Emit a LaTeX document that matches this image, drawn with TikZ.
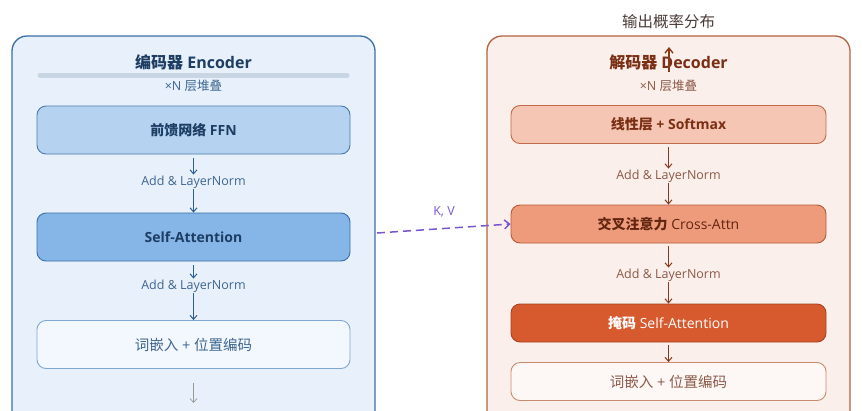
\documentclass[tikz,border=0pt]{standalone}
\usepackage{fontspec}
\setmainfont{Open Sans}
\newfontfamily\zhfont{Noto Sans CJK SC}
\newcommand{\zh}[1]{{\zhfont #1}}
\usetikzlibrary{arrows.meta}
\definecolor{encfill}{HTML}{E8F1FB}
\definecolor{encline}{HTML}{3B6FA6}
\definecolor{enctitle}{HTML}{1D3D63}
\definecolor{enctext}{HTML}{3E6690}
\definecolor{encbar}{HTML}{C8D5E3}
\definecolor{ffnfill}{HTML}{B5D3F1}
\definecolor{ffnline}{HTML}{4A79AD}
\definecolor{safill}{HTML}{86B6E8}
\definecolor{embfill}{HTML}{F3F8FE}
\definecolor{embline}{HTML}{7EA7D2}
\definecolor{encarrow}{HTML}{2D5D95}
\definecolor{decfill}{HTML}{FBEFEB}
\definecolor{decline}{HTML}{B4623F}
\definecolor{dectitle}{HTML}{7A2E14}
\definecolor{dectext}{HTML}{8A5A48}
\definecolor{smfill}{HTML}{F4C6B3}
\definecolor{smline}{HTML}{BF6A4A}
\definecolor{crfill}{HTML}{EE9B7C}
\definecolor{crline}{HTML}{B85A38}
\definecolor{mkfill}{HTML}{D75A2E}
\definecolor{mkline}{HTML}{A8431F}
\definecolor{demfill}{HTML}{FDF7F5}
\definecolor{demline}{HTML}{C98B70}
\definecolor{decarrow}{HTML}{8A3A1C}
\definecolor{kv}{HTML}{7A55D0}
\definecolor{outtext}{HTML}{4A3A36}
\tikzset{
  outer/.style={rounded corners=15pt, line width=1.3pt},
  layer/.style={rounded corners=9pt, line width=0.9pt, minimum height=#1, inner sep=0pt},
  layer/.default=48pt,
  encbox/.style={layer, minimum width=313pt},
  decbox/.style={layer=38pt, minimum width=315pt},
  lbl/.style={font=\fontsize{12.5}{14}\selectfont, inner sep=1pt},
  flow/.style={-{Straight Barb[length=4pt,width=7pt]}, line width=1pt},
}
\begin{document}
\begin{tikzpicture}[x=1pt,y=-1pt]
\useasboundingbox (0,0) rectangle (862,410);
\clip (0,0) rectangle (862,410);
% ---------------- Encoder ----------------
\draw[outer, draw=encline, fill=encfill] (12,36) rectangle (375,440);
\node[font=\fontsize{16}{18}\selectfont\bfseries, text=enctitle] (enct) at (193.5,62) {\zh{编码器} Encoder};
\draw[encbar, line width=5pt, line cap=round] (40,75) -- (347,75);
\node[lbl, text=enctext] (encn) at (193.5,86) {×N \zh{层堆叠}};
\node[encbox, draw=ffnline, fill=ffnfill, font=\fontsize{14}{16}\selectfont\bfseries, text=enctitle] (ffn) at (193.5,130) {\zh{前馈网络} FFN};
\node[lbl, text=enctext] (eadd1) at (193.5,182) {Add \& LayerNorm};
\node[encbox, draw=encline, fill=safill, font=\fontsize{14}{16}\selectfont\bfseries, text=enctitle] (esa) at (193.5,237) {Self-Attention};
\node[lbl, text=enctext] (eadd2) at (193.5,286) {Add \& LayerNorm};
\node[encbox, draw=embline, fill=embfill, font=\fontsize{14.5}{16}\selectfont, text=enctext] (eemb) at (193.5,344.5) {\zh{词嵌入} + \zh{位置编码}};
\coordinate (ebot) at (193.5,403);
\draw[flow, encarrow] (ffn.south) ++(0,4) -- (eadd1.north);
\draw[flow, encarrow] (eadd1.south) -- (esa.north);
\draw[flow, encarrow] (esa.south) ++(0,4) -- (eadd2.north);
\draw[flow, encarrow] (eadd2.south) -- (eemb.north);
\draw[flow, gray!80, line width=0.7pt] (eemb.south) ++(0,14) -- (ebot);
% ---------------- Decoder ----------------
\draw[outer, draw=decline, fill=decfill] (487,36) rectangle (850,440);
\node[font=\fontsize{15.5}{18}\selectfont, text=outtext] (dout) at (668.5,22) {\zh{输出概率分布}};
\node[font=\fontsize{16}{18}\selectfont\bfseries, text=dectitle] (dect) at (668.5,62) {\zh{解码器} Decoder};
\coordinate (dup) at (669,72);
\coordinate (dupend) at (669,47);
\draw[decarrow, line width=1.4pt, -{Straight Barb[length=5pt,width=8pt]}] (dup) -- (dupend);
\node[lbl, text=dectext] (decn) at (668.5,86) {×N \zh{层堆叠}};
\node[decbox, draw=smline, fill=smfill, font=\fontsize{14}{16}\selectfont\bfseries, text=dectitle] (dsm) at (668.5,124.5) {\zh{线性层} + Softmax};
\node[lbl, text=dectext] (dadd1) at (668.5,176) {Add \& LayerNorm};
\node[decbox, draw=crline, fill=crfill, font=\fontsize{14}{16}\selectfont, text=dectitle!80!black] (dcr) at (668.5,224) {\zh{\bfseries 交叉注意力} Cross-Attn};
\node[lbl, text=dectext] (dadd2) at (668.5,275) {Add \& LayerNorm};
\node[decbox, draw=mkline, fill=mkfill, font=\fontsize{14}{16}\selectfont, text=white] (dmk) at (668.5,323) {\zh{\bfseries 掩码} Self-Attention};
\node[decbox, draw=demline, fill=demfill, font=\fontsize{14.5}{16}\selectfont, text=dectext] (demb) at (668.5,381.5) {\zh{词嵌入} + \zh{位置编码}};
\draw[flow, decarrow] (dsm.south) ++(0,3) -- (dadd1.north);
\draw[flow, decarrow] (dadd1.south) -- (dcr.north);
\draw[flow, decarrow] (dcr.south) ++(0,3) -- (dadd2.north);
\draw[flow, decarrow] (dadd2.south) -- (dmk.north);
\draw[flow, decarrow] (dmk.south) ++(0,3) -- (demb.north);
% ---------------- K, V ----------------
\coordinate (kvs) at (377,233);
\draw[kv, line width=1.5pt, dash pattern=on 8pt off 5pt, -{Straight Barb[length=5pt,width=9pt]}] (kvs) -- (dcr.west);
\node[lbl, text=kv] (kvl) at (444,212) {K, V};
\end{tikzpicture}
\end{document}
